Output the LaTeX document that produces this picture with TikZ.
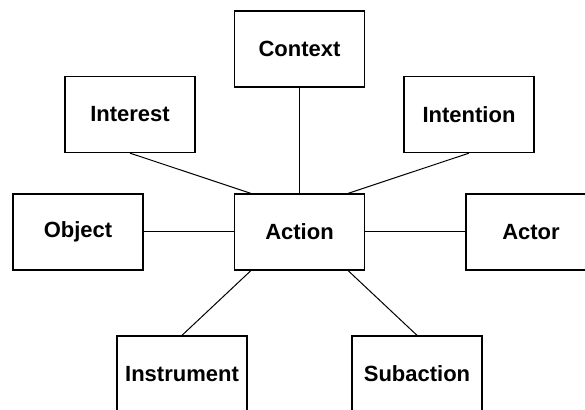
\documentclass[tikz,border=0pt]{standalone}
\usepackage{fontspec}
\setmainfont{Liberation Sans}

\begin{document}
\begin{tikzpicture}[x=1pt, y=1pt,
    box/.style={draw, line width=1.3pt, minimum width=130pt, minimum height=76pt,
        inner sep=0pt, font=\fontsize{22}{26}\selectfont\bfseries},
    link/.style={line width=1pt}]
\useasboundingbox (0,0) rectangle (585,409);
% Draw boxes
\foreach \name/\x/\y/\txt in {context/299.5/360/Context, interest/130/294.5/Interest,
    intention/469/294.5/Intention, object/78/177/Object, action/299.5/177/Action,
    actor/531/177/Actor, instrument/182/35/Instrument, subaction/417/35/Subaction}
    \node[box] (\name) at (\x,\y) {\txt};
% Draw links
\draw[link] (context.south) -- (action.north);
\draw[link] (interest.south) -- ([xshift=17pt]action.north west);
\draw[link] (intention.south) -- ([xshift=-17pt]action.north east);
\draw[link] (object.east) -- (action.west);
\draw[link] (action.east) -- (actor.west);
\draw[link] (instrument.north) -- ([xshift=17pt]action.south west);
\draw[link] (subaction.north) -- ([xshift=-17pt]action.south east);
\end{tikzpicture}
\end{document}
